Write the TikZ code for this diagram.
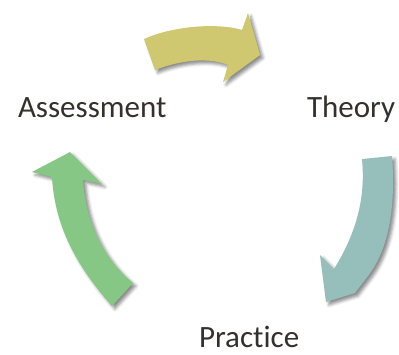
\documentclass[tikz,border=0pt]{standalone}
\usepackage{fontspec}
\setmainfont{Carlito}[Ligatures=NoCommon]
\usepackage{tikz}
\usetikzlibrary{positioning}
\usetikzlibrary{shadows.blur}
\definecolor{arrowyellow}{RGB}{208,200,112}
\definecolor{arrowteal}{RGB}{150,191,188}
\definecolor{arrowgreen}{RGB}{134,199,134}
\definecolor{stagetext}{RGB}{52,48,43}
\tikzstyle{stage}=[inner sep=0pt, outer sep=0pt, text=stagetext, font=\fontsize{31}{36}\selectfont]
\tikzset{
bigarrow/.style = {fill=#1, draw=none,
                   blur shadow={shadow xshift=3pt, shadow yshift=-3pt,
                                shadow blur radius=3pt, shadow opacity=45}},
}

\begin{document}
\begin{tikzpicture}[x=1pt, y=-1pt]
        \useasboundingbox (0,0) rectangle (399,354);

        \node[stage, anchor=base west] (assess) at (18,117) {Assessment};
        \node[stage, anchor=base west] (theory) at (307,117) {Theory};
        \node[stage, anchor=base west] (practice) at (199,347) {Practice};

        % Assessment -> Theory
        \path[bigarrow=arrowyellow]
        (144,39) .. controls (170,27) and (215,22) .. (242,30)
        -- (248,13) -- (260,55) -- (223,82) -- (228,65)
        .. controls (210,57) and (180,60) .. (155,70) -- cycle;

        % Theory -> Practice
        \path[bigarrow=arrowteal]
        (362,159) -- (392,156)
        .. controls (396,210) and (388,250) .. (368,276)
        -- (355,293) -- (326,302) -- (320,255) -- (334,269)
        .. controls (355,235) and (366,200) .. (362,159) -- cycle;

        % Practice -> Assessment
        \path[bigarrow=arrowgreen]
        (133,283) -- (112,306)
        .. controls (80,270) and (55,230) .. (52,177)
        -- (32,172) -- (70,152) -- (102,184) -- (83,180)
        .. controls (86,225) and (105,260) .. (133,283) -- cycle;
\end{tikzpicture}
\end{document}
